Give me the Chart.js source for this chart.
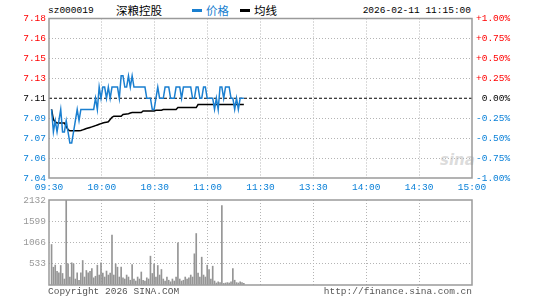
<!DOCTYPE html>
<html><head><meta charset="utf-8">
<script src="https://cdn.jsdelivr.net/npm/chart.js@4.4.1/dist/chart.umd.min.js"></script>
<style>
html,body{margin:0;padding:0;background:#fff;}
body{width:545px;height:300px;overflow:hidden;position:relative;font-family:'Liberation Mono','DejaVu Sans Mono',monospace;}
canvas{position:absolute;left:0;}
.t{position:absolute;white-space:pre;font-size:9.5px;line-height:12px;color:#000;}
.cjk{font-family:'Noto Sans CJK SC',sans-serif;font-size:11.5px;line-height:13px;}
.sw{position:absolute;height:3px;width:10px;}
</style></head><body>
<div class="t" style="left:48px;top:5px;">sz000019</div>
<div class="t cjk" style="left:116px;top:4px;">深粮控股</div>
<div class="sw" style="left:192px;top:9px;background:#1a7fd0;"></div>
<div class="t cjk" style="left:206px;top:4px;color:#1a7fd0;">价格</div>
<div class="sw" style="left:240px;top:9px;background:#000;"></div>
<div class="t cjk" style="left:254px;top:4px;">均线</div>
<div class="t" style="right:74px;top:5px;">2026-02-11 11:15:00</div>
<div class="t" style="left:440px;top:151px;font-family:'DejaVu Sans';font-style:italic;font-weight:bold;font-size:15px;line-height:18px;color:rgba(190,190,190,0.55);">sina</div>
<canvas id="pc" width="545" height="195" style="top:0;width:545px;height:195px;"></canvas>
<canvas id="vc" width="545" height="105" style="top:195px;width:545px;height:105px;"></canvas>
<div class="t" style="left:48px;top:286px;color:#555;">Copyright 2026 SINA.COM</div>
<div class="t" style="right:73px;top:286px;color:#555;">http://finance.sina.com.cn</div>
<script>
// ---- data ----
const timeLabels = ['09:30','10:00','10:30','11:00','11:30','13:30','14:00','14:30','15:00'];
const timeTickPos = [0,30,60,90,120,150,180,210,240];
const prevClose = 7.11;
const pctTicks = [-1,-0.75,-0.5,-0.25,0,0.25,0.5,0.75,1];
const volTicks = [0,533,1066,1599,2132];
const price = [
 7.10,7.08,7.09,7.08,7.09,7.10,7.08,7.08,7.09,7.08,
 7.07,7.07,7.08,7.09,7.10,7.09,7.10,7.10,7.10,7.10,
 7.10,7.10,7.10,7.10,7.11,7.10,7.12,7.11,7.12,7.12,
 7.11,7.12,7.11,7.12,7.12,7.12,7.12,7.11,7.13,7.13,
 7.12,7.12,7.13,7.12,7.13,7.12,7.12,7.12,7.12,7.12,
 7.12,7.12,7.11,7.11,7.11,7.10,7.10,7.11,7.12,7.11,
 7.11,7.11,7.12,7.12,7.12,7.11,7.11,7.11,7.12,7.12,
 7.12,7.11,7.12,7.12,7.12,7.12,7.12,7.11,7.11,7.12,
 7.12,7.11,7.11,7.12,7.12,7.11,7.11,7.11,7.11,7.10,
 7.11,7.10,7.12,7.12,7.11,7.12,7.12,7.12,7.11,7.11,
 7.10,7.11,7.10,7.11,7.11,7.11];
const avgPrice = [
 7.100,7.091,7.089,7.088,7.088,7.088,7.088,7.088,7.085,7.082,
 7.081,7.081,7.081,7.081,7.081,7.081,7.0812,7.0818,7.0824,7.083,
 7.0835,7.084,7.0845,7.085,7.0856,7.0862,7.0868,7.0874,7.088,7.0884,
 7.0887,7.089,7.091,7.093,7.094,7.094,7.094,7.094,7.094,7.0955,
 7.0958,7.096,7.0962,7.0968,7.0973,7.0973,7.0973,7.0973,7.0973,7.0973,
 7.0987,7.0987,7.0987,7.0987,7.0987,7.0987,7.0987,7.0993,7.0993,7.0993,
 7.0993,7.0999,7.0999,7.0999,7.0999,7.0999,7.0999,7.0999,7.0999,7.1017,
 7.1017,7.1017,7.1017,7.1017,7.1017,7.1017,7.1017,7.1017,7.1017,7.1017,
 7.1044,7.1044,7.1044,7.1044,7.1044,7.1044,7.1044,7.1044,7.1044,7.1044,
 7.1044,7.1044,7.1044,7.1044,7.1044,7.1044,7.1044,7.1044,7.1044,7.1044,
 7.1044,7.1044,7.1044,7.1044,7.1044,7.1044];
const volume = [
 1016,446,500,346,305,489,289,150,2132,530,
 200,557,530,150,305,120,305,614,200,364,
 305,346,414,180,220,497,250,557,300,200,
 350,250,300,1249,250,530,447,200,447,180,
 150,250,200,120,514,150,100,200,150,326,
 120,100,180,150,723,289,530,200,489,250,
 389,150,100,200,120,80,150,100,200,1058,
 150,100,120,200,150,180,250,200,782,1291,
 300,200,698,250,200,497,389,150,472,100,
 50,80,60,1994,40,50,60,50,80,414,
 120,60,50,80,60,40];

// ---- styling ----
const BLUE = '#1a7fd0', TXTBLUE = '#0a80d8', RED = '#ff0000', GRID = '#b4b4b4', FRAME = '#9a9a9a';
const FONT = {family:"'Liberation Mono','DejaVu Sans Mono',monospace", size:9.5};
const yMin = prevClose*(1-0.01), yMax = prevClose*(1+0.01);

const framePlugin = {
  id:'frame',
  afterDraw(chart){
    const a = chart.chartArea, c = chart.ctx;
    c.save(); c.strokeStyle = FRAME; c.lineWidth = 1.5;
    c.strokeRect(a.left, a.top, a.right-a.left, a.bottom-a.top);
    c.restore();
  }
};
function fixW(w){ return s => { s.width = w; s.paddingTop = 0; s.paddingBottom = 0; }; }

// visible time axis (grid + labels)
const xCommon = {
  type:'linear', min:0, max:240, offset:false,
  afterBuildTicks: s => { s.ticks = timeTickPos.map(v => ({value:v})); },
  grid:{ offset:false, drawTicks:false, lineWidth:1,
         color: c => (c.index===0 || c.index===timeTickPos.length-1) ? 'rgba(0,0,0,0)' : GRID },
  border:{ display:false, dash:[1,2] }
};
// minute-slot axis that the data is plotted on (as the reference spaces its points)
const xData = { type:'linear', min:-1.4, max:229.6, offset:false, display:false };

new Chart(document.getElementById('pc'), {
  type:'line',
  data:{ datasets:[
    { label:'价格', xAxisID:'xd', data: price.map((v,i)=>({x:i,y:v})), borderColor:BLUE, borderWidth:1.5,
      pointRadius:0, tension:0, order:0 },
    { label:'均线', xAxisID:'xd', data: avgPrice.map((v,i)=>({x:i,y:v})), borderColor:'#000', borderWidth:1.5,
      pointRadius:0, tension:0, order:1 },
    { label:'昨收', xAxisID:'x', data: [{x:0,y:prevClose},{x:240,y:prevClose}], borderColor:'#000', borderWidth:1,
      borderDash:[3,2], pointRadius:0, order:2 }
  ]},
  options:{
    responsive:false, animation:false, devicePixelRatio:1,
    layout:{ padding:{ top:18.5, left:0, right:0, bottom:0 } },
    plugins:{ legend:{display:false}, tooltip:{enabled:false} },
    scales:{
      x: Object.assign({}, xCommon, {
        position:'bottom',
        afterFit: s => { s.height = 17; s.paddingLeft = 0; s.paddingRight = 0; },
        ticks:{ autoSkip:false, maxRotation:0, padding:4, color:TXTBLUE, font:FONT,
                callback:(v,i)=>timeLabels[i] }
      }),
      xd: Object.assign({}, xData, { position:'bottom' }),
      y:{
        type:'linear', position:'left', min:yMin, max:yMax,
        afterBuildTicks: s => { s.ticks = pctTicks.map(p => ({value: prevClose*(1+p/100)})); },
        afterFit: fixW(49),
        ticks:{ padding:3, font:FONT, callback: v => v.toFixed(2),
                color: c => c.tick.value > prevClose+1e-6 ? RED : (c.tick.value < prevClose-1e-6 ? TXTBLUE : '#000') },
        grid:{ drawTicks:false, lineWidth:1,
               color: c => (c.index===0 || c.index===8 || c.index===4) ? 'rgba(0,0,0,0)' : GRID },
        border:{ display:false, dash:[1,2] }
      },
      y2:{
        type:'linear', position:'right', min:-1, max:1,
        afterBuildTicks: s => { s.ticks = pctTicks.map(p => ({value:p})); },
        afterFit: fixW(73),
        ticks:{ padding:4, font:FONT,
                callback: v => (v>0?'+':(v<0?'-':' ')) + Math.abs(v).toFixed(2) + '%',
                color: c => c.tick.value > 0 ? RED : (c.tick.value < 0 ? TXTBLUE : '#000') },
        grid:{ display:false, drawTicks:false },
        border:{ display:false }
      }
    }
  },
  plugins:[framePlugin]
});

new Chart(document.getElementById('vc'), {
  type:'bar',
  data:{ datasets:[
    { label:'成交量', xAxisID:'xd', data: volume.map((v,i)=>({x:i,y:v})), backgroundColor:'#959595',
      borderWidth:0, barThickness:1 }
  ]},
  options:{
    responsive:false, animation:false, devicePixelRatio:1,
    layout:{ padding:{ top:5, left:0, right:73, bottom:15 } },
    plugins:{ legend:{display:false}, tooltip:{enabled:false} },
    scales:{
      x: Object.assign({}, xCommon, {
        position:'bottom',
        afterFit: s => { s.height = 0; s.paddingLeft = 0; s.paddingRight = 0; },
        ticks:{ display:false }
      }),
      xd: Object.assign({}, xData, { position:'bottom', grid:{offset:false} }),
      y:{
        type:'linear', position:'left', min:0, max:2132,
        afterBuildTicks: s => { s.ticks = volTicks.map(v => ({value:v})); },
        afterFit: fixW(49),
        ticks:{ padding:3, font:FONT, color:'#999', callback: v => v===0 ? '' : String(v) },
        grid:{ drawTicks:false, lineWidth:1,
               color: c => (c.index===0 || c.index===volTicks.length-1) ? 'rgba(0,0,0,0)' : GRID },
        border:{ display:false, dash:[1,2] }
      }
    }
  },
  plugins:[framePlugin]
});
</script>
</body></html>
